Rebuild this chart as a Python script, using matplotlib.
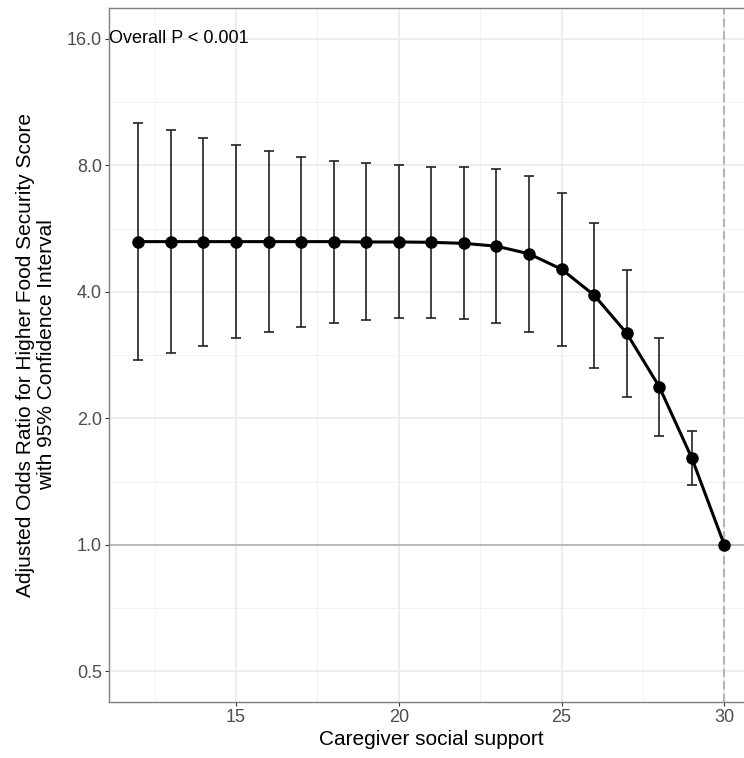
import numpy as np
import matplotlib.pyplot as plt
from matplotlib.ticker import FixedLocator, NullFormatter

support = [12, 13, 14, 15, 16, 17, 18, 19, 20, 21, 22, 23, 24, 25, 26, 27, 28, 29, 30]
odds = [5.27, 5.27, 5.27, 5.27, 5.27, 5.27, 5.27, 5.26, 5.26, 5.25, 5.22, 5.14,
        4.93, 4.53, 3.93, 3.19, 2.38, 1.61, 1.0]
upper = [10.12, 9.70, 9.30, 8.97, 8.66, 8.38, 8.20, 8.11, 8.02, 7.95, 7.95, 7.85,
         7.56, 6.89, 5.85, 4.51, 3.10, 1.87, 1.0]
lower = [2.76, 2.87, 2.98, 3.10, 3.21, 3.30, 3.38, 3.43, 3.46, 3.47, 3.44, 3.37,
         3.21, 2.97, 2.64, 2.25, 1.82, 1.39, 1.0]
y_ticks = [0.5, 1.0, 2.0, 4.0, 8.0, 16.0]
x_ticks = [15, 20, 25, 30]

plt.rcParams['font.family'] = ['Liberation Sans', 'DejaVu Sans']

fig = plt.figure(figsize=(7.44, 7.58), dpi=100)
ax = fig.add_axes([0.1465, 0.0739, 0.8665, 0.9156])

ax.set_yscale('log', base=2)
ax.set_xlim(11.1, 30.9)
ax.set_ylim(0.423, 18.96)

# grid like theme_bw
ax.set_xticks(x_ticks)
ax.xaxis.set_minor_locator(FixedLocator([12.5, 17.5, 22.5, 27.5]))
ax.yaxis.set_major_locator(FixedLocator(y_ticks))
ax.yaxis.set_minor_locator(FixedLocator([v * np.sqrt(2) for v in y_ticks]))
ax.yaxis.set_minor_formatter(NullFormatter())
ax.set_yticklabels(['%.1f' % v for v in y_ticks])
ax.grid(which='major', color='#e8e8e8', lw=1.1)
ax.grid(which='minor', color='#f0f0f0', lw=0.6)
ax.set_axisbelow(True)
ax.tick_params(which='minor', length=0)
ax.tick_params(which='major', length=3, color='#333333', labelcolor='#4d4d4d',
               labelsize=13, pad=2)

ax.axhline(1.0, color='#b0b0b0', lw=1.2, zorder=1)
ax.axvline(30, color='#b5b5b5', lw=1.5, ls=(0, (4, 2)), zorder=1)

odds_a = np.array(odds)
yerr = [odds_a - np.array(lower), np.array(upper) - odds_a]
ax.errorbar(support[:-1], odds[:-1], yerr=[yerr[0][:-1], yerr[1][:-1]],
            fmt='none', ecolor='#222222', elinewidth=1.2, capsize=3.5, capthick=1.2, zorder=2)
ax.plot(support, odds, color='black', lw=2.2, marker='o', markersize=8, zorder=3)

ax.text(11.1, 16.0, 'Overall P < 0.001', ha='left', va='center', fontsize=13, color='black')

for s in ['left', 'bottom', 'top']:
    ax.spines[s].set_color('#7f7f7f')
    ax.spines[s].set_linewidth(1.0)
ax.spines['right'].set_visible(False)

ax.set_xlabel('Caregiver social support', fontsize=15, labelpad=3)
ax.set_ylabel('Adjusted Odds Ratio for Higher Food Security Score\nwith 95% Confidence Interval',
              fontsize=15, labelpad=8, linespacing=1.1)

fig.savefig('out.png', dpi=100, facecolor='white')
